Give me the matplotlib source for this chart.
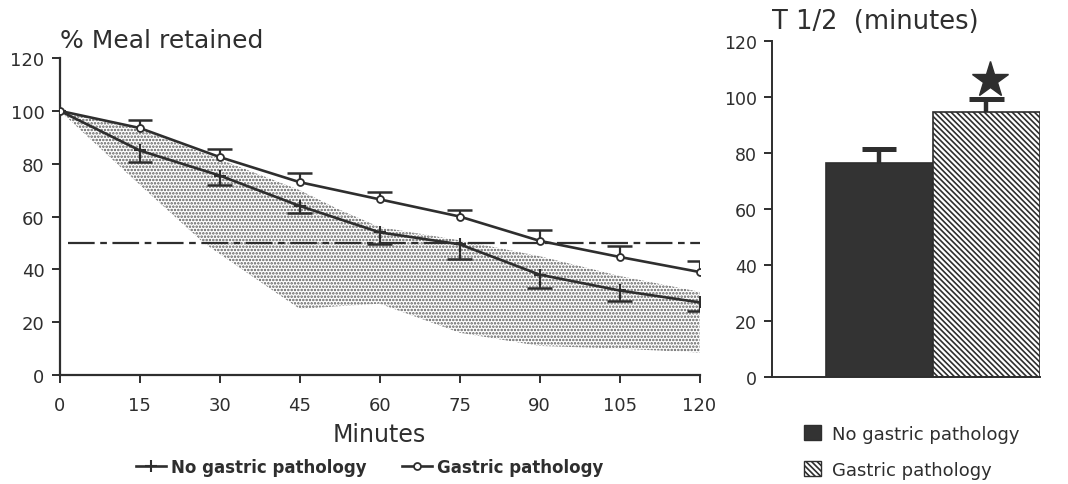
import numpy as np
import matplotlib
matplotlib.use("Agg")
import matplotlib.pyplot as plt
from matplotlib.lines import Line2D
from matplotlib.patches import Patch

# left panel: % meal retained over time
minutes = [0, 15, 30, 45, 60, 75, 90, 105, 120]
no_path = [100, 85, 75.5, 64, 54, 49.5, 38, 32, 27.5]
no_path_err = [0, 4.3, 3.5, 2.5, 4.5, 5.7, 5.0, 4.0, 3.3]   # drawn downward
path = [100, 93.5, 82.5, 73, 66.5, 60, 50.8, 44.7, 39]
path_err = [0, 3.0, 3.0, 3.5, 2.7, 2.5, 4.2, 4.0, 4.1]      # drawn upward

# normal range band (stippled)
band_x = [0, 15, 27, 45, 52, 60, 75, 90, 105, 120]
band_lo = [100, 72, 50, 25, 26, 27, 16, 11, 10, 8.5]
band_hi = [100, 93, 84, 70, 63, 56, 51, 45, 37.5, 31.5]

half_level = 50

# right panel: T 1/2 (minutes)
groups = ["No gastric pathology", "Gastric pathology"]
t_half = [76.5, 94.5]
t_half_err = [4.8, 4.8]
star_y = 106

ink = "#2e2e2e"
plt.rcParams["font.family"] = ["DejaVu Sans"]
plt.rcParams["hatch.linewidth"] = 1.2

fig = plt.figure(figsize=(10.68, 4.85), dpi=100)

# ---- left axes
ax = fig.add_axes([0.056, 0.2247, 0.599, 0.6536])
x = np.array(minutes, dtype=float)

ax.fill_between(band_x, band_lo, band_hi, facecolor="none", edgecolor="#5c5c5c",
                hatch=".....", linewidth=0, zorder=1)
ax.hlines(half_level, 1.5, 120, colors=ink, linestyles=(0, (12, 2.5, 3, 2.5)), lw=1.6, zorder=2)

cw = 2.3
yp = np.array(path)
ax.vlines(x[1:], yp[1:], yp[1:] + np.array(path_err)[1:], colors=ink, lw=1.6, zorder=3)
ax.hlines(yp[1:] + np.array(path_err)[1:], x[1:] - cw, x[1:] + cw, colors=ink, lw=1.8, zorder=3)
yn = np.array(no_path)
ax.vlines(x[1:], yn[1:] - np.array(no_path_err)[1:], yn[1:], colors=ink, lw=1.6, zorder=3)
ax.hlines(yn[1:] - np.array(no_path_err)[1:], x[1:] - cw, x[1:] + cw, colors=ink, lw=1.8, zorder=3)

ax.plot(x, no_path, color=ink, lw=1.9, marker="+", ms=8, mew=1.5, zorder=4)
ax.plot(x, path, color=ink, lw=1.9, marker="o", ms=5, mfc="white", mec=ink, mew=1.3, zorder=4)

ax.set_xlim(0, 120)
ax.set_ylim(0, 120)
ax.set_xticks(minutes)
ax.set_yticks(range(0, 121, 20))
for s in ["top", "right"]:
    ax.spines[s].set_visible(False)
for s in ["left", "bottom"]:
    ax.spines[s].set_color(ink)
    ax.spines[s].set_linewidth(1.6)
ax.tick_params(colors=ink, labelsize=13, length=6, width=1.4, pad=5)
ax.tick_params(axis="x", pad=9)
ax.set_xlabel("Minutes", fontsize=17, color=ink, labelpad=6)
ax.text(0.0, 1.02, "% Meal retained", transform=ax.transAxes, fontsize=18,
        color=ink, ha="left", va="bottom")

# ---- right axes
bx = fig.add_axes([0.7228, 0.2206, 0.251, 0.6928])
pos = np.array([1, 2])
bars = bx.bar(pos, t_half, width=1.0, color=["#333333", "white"], edgecolor=ink,
              linewidth=1.2, zorder=2)
bars[1].set_hatch("\\\\\\\\\\\\")
tops = np.array(t_half) + np.array(t_half_err)
bx.vlines(pos, t_half, tops, colors=ink, lw=3.2, zorder=3)
bx.hlines(tops, pos - 0.16, pos + 0.16, colors=ink, lw=3.6, zorder=3)
bx.plot([2.03], [star_y], marker="*", ms=27, color=ink, zorder=4)
bx.set_xlim(0, 2.5)
bx.set_ylim(0, 120)
bx.set_xticks([])
bx.set_yticks(range(0, 121, 20))
for s in ["top", "right"]:
    bx.spines[s].set_visible(False)
for s in ["left", "bottom"]:
    bx.spines[s].set_color(ink)
    bx.spines[s].set_linewidth(1.4)
bx.tick_params(colors=ink, labelsize=12.5, length=6, width=1.4, pad=5)
bx.text(0.0, 1.02, "T 1/2  (minutes)", transform=bx.transAxes, fontsize=18.5,
        color=ink, ha="left", va="bottom")

# legends
lhandles = [Line2D([], [], color=ink, lw=1.9, marker="+", ms=8, mew=1.5),
            Line2D([], [], color=ink, lw=1.9, marker="o", ms=5, mfc="white", mec=ink, mew=1.3)]
fig.legend(lhandles, ["No gastric pathology", "Gastric pathology"], loc="center",
           bbox_to_anchor=(0.346, 0.035), ncol=2, frameon=False, handlelength=1.8,
           handletextpad=0.3, columnspacing=2.1, prop={"size": 12, "weight": "bold"},
           labelcolor=ink)

rhandles = [Patch(facecolor="#333333", edgecolor=ink),
            Patch(facecolor="white", edgecolor=ink, hatch="\\\\\\\\\\\\")]
fig.legend(rhandles, groups, loc="upper left", bbox_to_anchor=(0.738, 0.155),
           frameon=False, handlelength=0.9, handleheight=0.9, handletextpad=0.6,
           labelspacing=1.0, prop={"size": 13}, labelcolor=ink)

fig.savefig("out.png", dpi=100)
